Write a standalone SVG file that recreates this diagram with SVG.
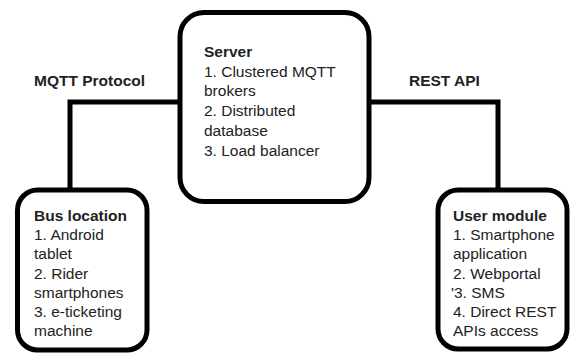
<svg xmlns="http://www.w3.org/2000/svg" width="571" height="360" viewBox="0 0 571 360">
<style>
.box{fill:#fff;stroke:#000;stroke-width:5}
.conn{fill:none;stroke:#000;stroke-width:5;stroke-linejoin:miter}
.t{font-family:"Liberation Sans",Arial,sans-serif;font-size:15.5px;fill:#222}
.b{font-weight:bold}
</style>
<rect width="571" height="360" fill="#fff"/>
<g id="connectors">
<path class="conn" d="M180 102 H70 V190"/>
<path class="conn" d="M369 102 H498 V190"/>
<text class="t b" x="34" y="86">MQTT Protocol</text>
<text class="t b" x="409" y="86">REST API</text>
</g>
<g id="server">
<rect class="box" x="180" y="12.5" width="189" height="189" rx="24"/>
<text class="t"><tspan class="b" x="204" y="57">Server</tspan><tspan x="204" y="77">1. Clustered MQTT</tspan><tspan x="204" y="96">brokers</tspan><tspan x="204" y="116">2. Distributed</tspan><tspan x="204" y="136">database</tspan><tspan x="204" y="156">3. Load balancer</tspan></text>
</g>
<g id="bus">
<rect class="box" x="17.5" y="190" width="129.5" height="160" rx="20"/>
<text class="t"><tspan class="b" x="34" y="221">Bus location</tspan><tspan x="34" y="240">1. Android</tspan><tspan x="34" y="259">tablet</tspan><tspan x="34" y="279">2. Rider</tspan><tspan x="34" y="298">smartphones</tspan><tspan x="34" y="317">3. e-ticketing</tspan><tspan x="34" y="336">machine</tspan></text>
</g>
<g id="user">
<rect class="box" x="438" y="190" width="129" height="159" rx="20"/>
<text class="t"><tspan class="b" x="453" y="221">User module</tspan><tspan x="453" y="240">1. Smartphone</tspan><tspan x="453" y="259">application</tspan><tspan x="453" y="279">2. Webportal</tspan><tspan x="451" y="298">'3. SMS</tspan><tspan x="453" y="317">4. Direct REST</tspan><tspan x="453" y="336">APIs access</tspan></text>
</g>
</svg>
